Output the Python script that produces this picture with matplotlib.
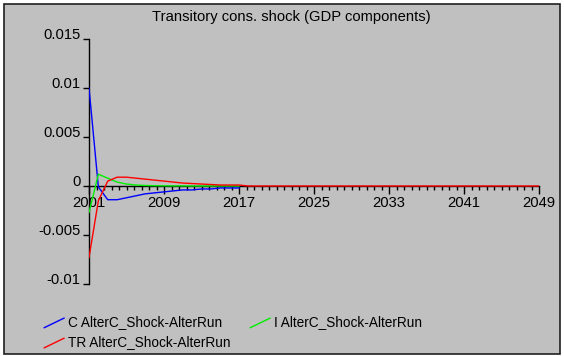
import matplotlib.pyplot as plt
import numpy as np
from matplotlib.legend_handler import HandlerBase
from matplotlib.lines import Line2D
from matplotlib.patches import Rectangle

plt.rcParams["font.family"] = ["Liberation Sans", "DejaVu Sans"]

years = np.arange(2001, 2050)

# responses for the first years, zero afterwards
c_vals = [0.0100, -0.0001, -0.0014, -0.0014, -0.0012, -0.0010, -0.0008, -0.0007,
          -0.0006, -0.0005, -0.0004, -0.0004, -0.0003, -0.0003, -0.0002, -0.0002,
          -0.0002]
i_vals = [-0.0027, 0.0012, 0.0008, 0.0004, 0.0002, 0.0001, 0.00005, 0.00003,
          0.00002, 0.00001, 0.00001, 0.0, 0.0, 0.0, 0.0, 0.0, 0.0]
tr_head = [-0.0073, -0.0015, 0.0005, 0.0009, 0.0009, 0.0008, 0.0007, 0.0006,
           0.0005, 0.0004, 0.0003, 0.00025, 0.0002, 0.00015, 0.0001, 0.0001,
           0.0001, 0.0]
tr_vals = tr_head + [0.0] * (len(years) - len(tr_head))

labels = ["C AlterC_Shock-AlterRun", "TR AlterC_Shock-AlterRun",
          "I AlterC_Shock-AlterRun"]
xtick_years = [2001, 2009, 2017, 2025, 2033, 2041, 2049]
yticks = [-0.01, -0.005, 0, 0.005, 0.01, 0.015]
ytick_labels = ["-0.01", "-0.005", "0", "0.005", "0.01", "0.015"]

BG = "#c0c0c0"
W, H = 564, 356


class DiagonalHandler(HandlerBase):
    def create_artists(self, legend, orig_handle, xdescent, ydescent,
                       width, height, fontsize, trans):
        line = Line2D([-xdescent, -xdescent + width],
                      [-ydescent - 0.15 * height, -ydescent + 0.85 * height],
                      color=orig_handle.get_color(), lw=1)
        line.set_transform(trans)
        return [line]


fig = plt.figure(figsize=(W / 100, H / 100), dpi=100, facecolor="white")
fig.patches.append(Rectangle((4 / W, 2 / H), 556 / W, 350 / H,
                             transform=fig.transFigure, facecolor=BG,
                             edgecolor="#202020", lw=1.2, zorder=-5))

ax = fig.add_axes([89 / W, (H - 284) / H, 450 / W, 245 / H])
ax.set_zorder(2)
ax.patch.set_visible(False)

l_c, = ax.plot(years[:len(c_vals)], c_vals, color="#0000ff", lw=1, zorder=3)
l_i, = ax.plot(years[:len(i_vals)], i_vals, color="#00ee00", lw=1, zorder=3)
l_tr, = ax.plot(years, tr_vals, color="#ff0000", lw=1, zorder=3)

ax.set_xlim(2001, 2049)
ax.set_ylim(-0.01, 0.015)

for side in ("top", "right"):
    ax.spines[side].set_visible(False)
ax.spines["bottom"].set_position(("data", 0))
ax.spines["left"].set_linewidth(1)
ax.spines["bottom"].set_linewidth(1)

ax.set_xticks(xtick_years)
ax.set_xticklabels([str(y) for y in xtick_years])
ax.set_xticks(np.linspace(2001, 2049, 61), minor=True)
ax.tick_params(axis="x", which="major", direction="out", length=6, width=1,
               pad=1, labelsize=10.6)
ax.tick_params(axis="x", which="minor", direction="out", length=3, width=1)

ax.set_yticks(yticks)
ax.set_yticklabels(ytick_labels)
ax.tick_params(axis="y", which="major", direction="out", length=4, width=1,
               pad=2, labelsize=10.6)
for lab in ax.get_yticklabels():
    lab.set_verticalalignment("baseline")

fig.text(291 / W, 1 - 17 / H, "Transitory cons. shock (GDP components)",
         ha="center", va="center", fontsize=10.6)

fig.legend([l_c, l_tr, l_i], labels, ncol=2, loc="upper left",
           bbox_to_anchor=(32 / W, 1 - 303 / H), frameon=False,
           fontsize=9.8, handlelength=1.45, handleheight=0.7,
           handletextpad=0.3, columnspacing=1.45, labelspacing=0.45,
           handler_map={Line2D: DiagonalHandler()})

fig.savefig("out.png", dpi=100, facecolor="white")
